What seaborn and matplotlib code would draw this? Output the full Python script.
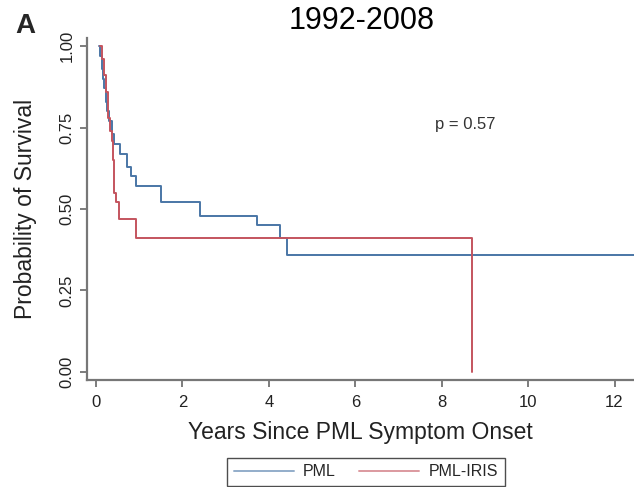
import matplotlib
matplotlib.use("Agg")
import matplotlib.pyplot as plt
import seaborn as sns
import pandas as pd

# Kaplan-Meier step coordinates
pml_time = [0.07, 0.10, 0.13, 0.16, 0.19, 0.22, 0.25, 0.30, 0.36, 0.42, 0.55, 0.72, 0.81, 0.93, 1.50, 2.40, 3.72, 4.25, 4.42, 12.50]
pml_surv = [1.00, 0.97, 0.93, 0.90, 0.87, 0.83, 0.80, 0.77, 0.73, 0.70, 0.67, 0.63, 0.60, 0.57, 0.52, 0.48, 0.45, 0.41, 0.36, 0.36]

iris_time = [0.09, 0.14, 0.18, 0.22, 0.27, 0.32, 0.37, 0.39, 0.41, 0.45, 0.53, 0.93, 8.70, 8.70]
iris_surv = [1.00, 0.96, 0.91, 0.86, 0.78, 0.74, 0.71, 0.65, 0.55, 0.52, 0.47, 0.41, 0.41, 0.00]

groups = ["PML", "PML-IRIS"]
colors = ["#4a76a6", "#c4545e"]
x_ticks = [0, 2, 4, 6, 8, 10, 12]
y_ticks = [0.00, 0.25, 0.50, 0.75, 1.00]
y_ticklabels = ["0.00", "0.25", "0.50", "0.75", "1.00"]
title = "1992-2008"
p_text = "p = 0.57"

df = pd.concat([
    pd.DataFrame({"t": pml_time, "s": pml_surv, "g": groups[0]}),
    pd.DataFrame({"t": iris_time, "s": iris_surv, "g": groups[1]}),
])

sns.set_theme(style="white")
plt.rcParams["font.family"] = ["Liberation Sans", "DejaVu Sans"]

fig = plt.figure(figsize=(6.34, 4.87), dpi=100)
ax = fig.add_axes([87/634, 1 - 380/487, 1 - 87/634, (380 - 38)/487])

for g, c in zip(groups, colors):
    sub = df[df["g"] == g]
    sns.lineplot(x=sub["t"].values, y=sub["s"].values, color=c, sort=False,
                 drawstyle="steps-post", linewidth=1.4, ax=ax, label=g, estimator=None)

ax.set_xlim(-0.21, 12.45)
ax.set_ylim(-0.025, 1.025)
ax.set_xticks(x_ticks)
ax.set_yticks(y_ticks)
ax.set_yticklabels(y_ticklabels, rotation=90, va="center")
ax.tick_params(axis="both", direction="out", length=5, width=1.2, color="#666666",
               labelsize=12, labelcolor="#222222", bottom=True, left=True)
ax.tick_params(axis="x", pad=6)
ax.tick_params(axis="y", pad=4)
for side in ["top", "right"]:
    ax.spines[side].set_visible(False)
for side in ["left", "bottom"]:
    ax.spines[side].set_color("#777777")
    ax.spines[side].set_linewidth(1.6)

ax.set_xlabel("Years Since PML Symptom Onset", fontsize=16.5, color="#222222", labelpad=8)
ax.set_ylabel("Probability of Survival", fontsize=16.5, color="#222222", labelpad=16)

fig.text(465/634, 1 - 124/487, p_text, fontsize=12, ha="center", va="center", color="#333333")
fig.text(362/634, 1 - 21/487, title, fontsize=22, ha="center", va="center", color="black")
fig.text(15/634, 1 - 26/487, "A", fontsize=20, fontweight="bold", ha="left", va="center")

handles, labels = ax.get_legend_handles_labels()
ax.get_legend().remove()
leg = fig.legend(handles, labels, loc="upper center", bbox_to_anchor=(366/634, 1 - 458/487),
                 borderaxespad=0, ncol=2, frameon=True, fontsize=11.5, handlelength=3.75,
                 columnspacing=1.45, fancybox=False, borderpad=0.4, handletextpad=0.6)
leg.get_frame().set_edgecolor("#222222")
leg.get_frame().set_linewidth(1.0)
for l in leg.get_lines():
    l.set_alpha(0.6)

fig.savefig("out.png", dpi=100)
